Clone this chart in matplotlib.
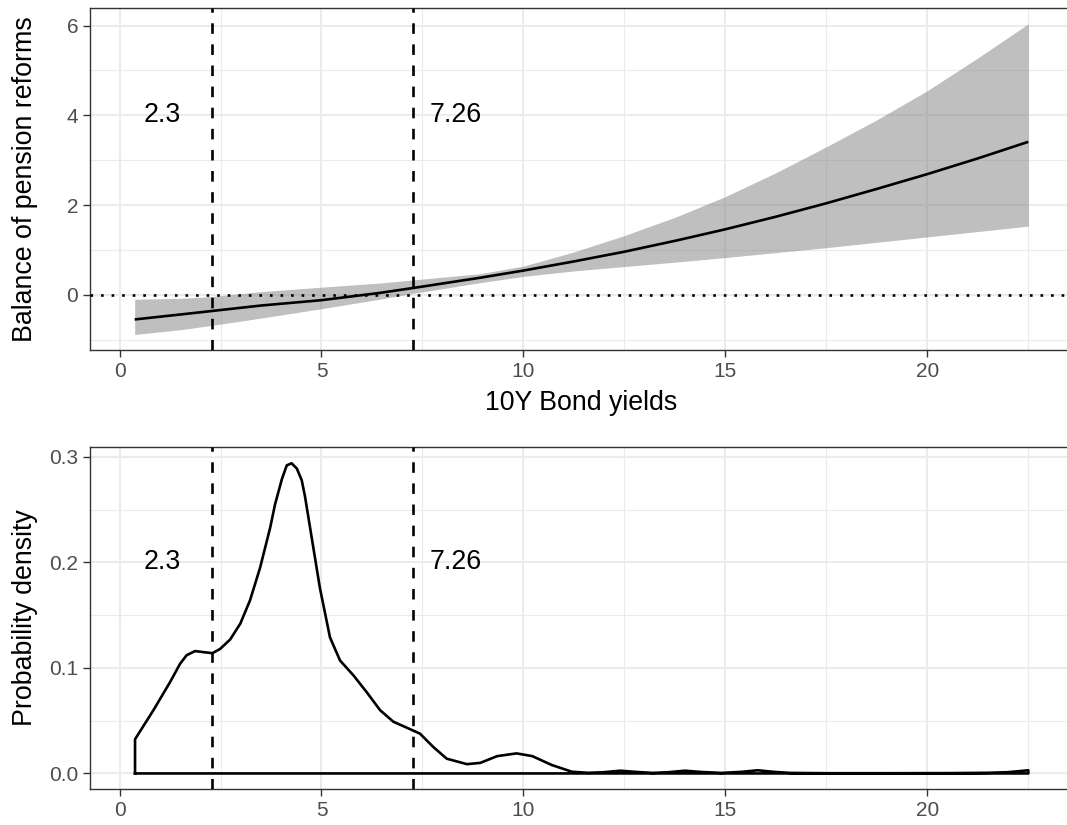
import numpy as np
import matplotlib
matplotlib.use("Agg")
import matplotlib.pyplot as plt
from matplotlib.ticker import MultipleLocator, FormatStrFormatter

plt.rcParams['font.family'] = ['Liberation Sans', 'DejaVu Sans']

# ---- data ----
# top panel: fitted effect with confidence band
yield_x = [0.375, 1.5, 2.3, 3.5, 5.0, 6.43, 7.26, 8.93, 10.0, 11.23, 12.5,
           13.79, 15.0, 16.25, 17.5, 18.75, 20.0, 21.25, 22.5]
effect = [-0.55, -0.44, -0.36, -0.24, -0.12, 0.04, 0.15, 0.38, 0.54, 0.74, 0.96,
          1.21, 1.46, 1.74, 2.04, 2.36, 2.69, 3.04, 3.41]
effect_hi = [-0.10, -0.08, -0.04, 0.07, 0.17, 0.26, 0.33, 0.47, 0.64, 0.95, 1.32,
             1.74, 2.19, 2.72, 3.30, 3.90, 4.55, 5.28, 6.04]
effect_lo = [-0.885, -0.78, -0.68, -0.52, -0.31, -0.10, 0.03, 0.27, 0.41, 0.53, 0.63,
             0.73, 0.83, 0.94, 1.05, 1.17, 1.29, 1.41, 1.53]

# bottom panel: density of bond yields
dens_x = [0.384, 0.84, 1.25, 1.50, 1.66, 1.87, 2.07, 2.30, 2.49, 2.74, 2.99, 3.23,
          3.48, 3.73, 3.85, 4.02, 4.14, 4.26, 4.39, 4.51, 4.59, 4.76, 4.96, 5.21,
          5.46, 5.79, 6.12, 6.45, 6.78, 7.11, 7.44, 7.77, 8.10, 8.60, 8.93, 9.35,
          9.83, 10.22, 10.70, 11.20, 11.60, 12.0, 12.4, 12.8, 13.2, 13.6, 14.0,
          14.4, 14.9, 15.4, 15.8, 16.2, 16.6, 17.5, 19.0, 20.5, 21.5, 22.0, 22.5]
density = [0.0324, 0.060, 0.0865, 0.104, 0.112, 0.116, 0.115, 0.114, 0.118, 0.127,
           0.142, 0.164, 0.195, 0.233, 0.255, 0.279, 0.292, 0.294, 0.289, 0.278,
           0.263, 0.223, 0.176, 0.129, 0.107, 0.093, 0.077, 0.060, 0.049, 0.0434,
           0.0377, 0.025, 0.014, 0.0088, 0.010, 0.0164, 0.019, 0.0164, 0.008,
           0.0016, 0.0006, 0.0012, 0.0026, 0.0014, 0.0005, 0.0012, 0.0026, 0.0014,
           0.0005, 0.0015, 0.003, 0.0015, 0.0005, 0.0002, 0.0002, 0.0003, 0.0006,
           0.0012, 0.003]

thresholds = [2.3, 7.26]
threshold_labels = ["2.3", "7.26"]
label_x = [1.07, 8.32]

GRID = "#EBEBEB"
BORDER = "#333333"
TICKTXT = "#4D4D4D"
LW = 1.9
TITLE_SIZE = 19.3
TICK_SIZE = 15


def style_axes(ax, ymajor, yminor):
    ax.set_facecolor("white")
    ax.xaxis.set_major_locator(MultipleLocator(5))
    ax.xaxis.set_minor_locator(MultipleLocator(2.5))
    ax.yaxis.set_major_locator(MultipleLocator(ymajor))
    ax.yaxis.set_minor_locator(MultipleLocator(yminor))
    ax.grid(which="major", color=GRID, lw=1.5, zorder=0)
    ax.grid(which="minor", color=GRID, lw=0.8, zorder=0)
    ax.set_axisbelow(True)
    for sp in ax.spines.values():
        sp.set_color(BORDER)
        sp.set_linewidth(1.0)
    ax.tick_params(which="major", length=5, width=1.0, color=BORDER,
                   labelcolor=TICKTXT, labelsize=TICK_SIZE, pad=3.5)
    ax.tick_params(which="minor", length=0)
    ax.set_xlim(-0.731, 23.606)


fig = plt.figure(figsize=(10.67, 8.25), dpi=100)

# ---- top panel ----
ax1 = fig.add_axes([90 / 1067, 1 - 350 / 825, 983 / 1067, 341.7 / 825])
style_axes(ax1, 2, 1)
ax1.fill_between(yield_x, effect_lo, effect_hi, color="grey", alpha=0.5,
                 lw=0, zorder=2)
ax1.plot(yield_x, effect, color="black", lw=LW, zorder=3,
         solid_joinstyle="round", solid_capstyle="butt")
ax1.axhline(0, color="black", lw=LW, dashes=(1, 3), zorder=4)
for t, lab, lx in zip(thresholds, threshold_labels, label_x):
    ax1.axvline(t, color="black", lw=LW, dashes=(4, 4), zorder=5)
    ax1.text(lx, 4, lab, ha="center", va="center", fontsize=TITLE_SIZE, color="black")
ax1.set_ylim(-1.231, 6.386)
ax1.set_xlabel("10Y Bond yields", fontsize=TITLE_SIZE)
ax1.set_ylabel("Balance of pension reforms", fontsize=TITLE_SIZE)
ax1.xaxis.set_label_coords(0.5, -0.155)
ax1.xaxis.label.set_va("center")
ax1.yaxis.set_label_coords(-0.066, 0.5)
ax1.yaxis.label.set_va("center")

# ---- bottom panel ----
ax2 = fig.add_axes([90 / 1067, 1 - 789 / 825, 983 / 1067, 342.3 / 825])
style_axes(ax2, 0.1, 0.05)
poly_x = [dens_x[0]] + dens_x + [dens_x[-1], dens_x[0]]
poly_y = [0] + density + [0, 0]
ax2.plot(poly_x, poly_y, color="black", lw=LW, zorder=3,
         solid_joinstyle="round")
for t, lab, lx in zip(thresholds, threshold_labels, label_x):
    ax2.axvline(t, color="black", lw=LW, dashes=(4, 4), zorder=5)
    ax2.text(lx, 0.2, lab, ha="center", va="center", fontsize=TITLE_SIZE, color="black")
ax2.set_ylim(-0.01475, 0.3097)
ax2.yaxis.set_major_formatter(FormatStrFormatter("%.1f"))
ax2.set_ylabel("Probability density", fontsize=TITLE_SIZE)
ax2.yaxis.set_label_coords(-0.066, 0.5)
ax2.yaxis.label.set_va("center")

fig.savefig("out.png", dpi=100)
